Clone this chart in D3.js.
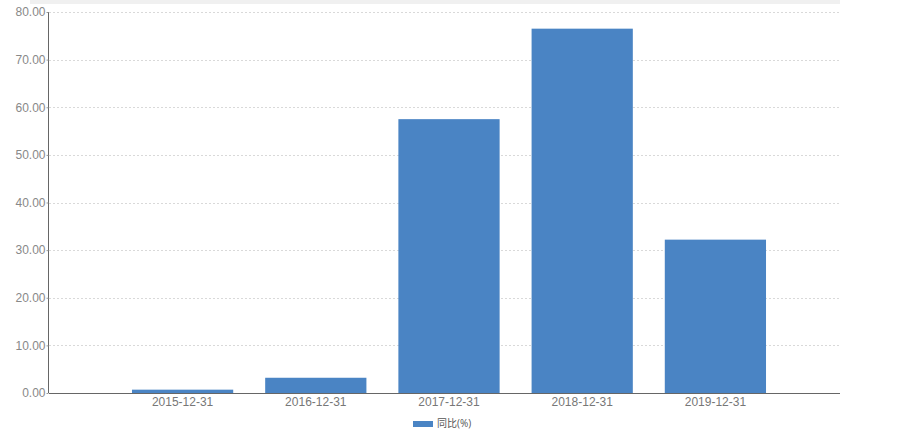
<!DOCTYPE html>
<html>
<head>
<meta charset="utf-8">
<script src="https://cdn.jsdelivr.net/npm/d3@7"></script>
<style>
  body { margin: 0; background: #fff; }
  svg { display: block; font-family: "Open Sans", "Noto Sans CJK SC", sans-serif; }
</style>
</head>
<body>
<svg width="919" height="434"></svg>
<script>
// data
var categories = ["2015-12-31", "2016-12-31", "2017-12-31", "2018-12-31", "2019-12-31"];
var values = [0.7, 3.2, 57.5, 76.5, 32.2];
var yTicks = [0, 10, 20, 30, 40, 50, 60, 70, 80];
var seriesName = "同比(%)";

var svg = d3.select("svg");
// note: "top" is taken by window.top, so use plot* names
var plotLeft = 49, plotRight = 840, plotTop = 12, plotBottom = 393;
var barColor = "#4a84c4";

var x = d3.scaleBand()
  .domain(categories)
  .range([116, 782])
  .paddingInner(0.24)
  .paddingOuter(0.12);

var y = d3.scaleLinear().domain([0, 80]).range([plotBottom, plotTop]);

// top faint border
svg.append("rect")
  .attr("x", 30).attr("y", 0).attr("width", plotRight - 30).attr("height", 4)
  .attr("fill", "#f0f0f0");

// grid lines
svg.append("g")
  .selectAll("line")
  .data(yTicks.filter(d => d > 0))
  .enter().append("line")
  .attr("x1", plotLeft).attr("x2", plotRight)
  .attr("y1", d => Math.round(y(d)) + 0.5)
  .attr("y2", d => Math.round(y(d)) + 0.5)
  .attr("stroke", "#d9d9d9")
  .attr("stroke-dasharray", "2,2");

// bars
svg.append("g")
  .selectAll("rect")
  .data(values)
  .enter().append("rect")
  .attr("x", (d, i) => x(categories[i]))
  .attr("width", x.bandwidth())
  .attr("y", d => y(d))
  .attr("height", d => y(0) - y(d))
  .attr("fill", barColor);

// y axis
var yAxis = svg.append("g")
  .attr("transform", "translate(" + (plotLeft - 0.5) + ",0)")
  .call(d3.axisLeft(y).tickValues(yTicks).tickFormat(d3.format(".2f")).tickSize(2).tickPadding(1));
yAxis.select(".domain").attr("stroke", "#666").attr("d", "M0," + plotTop + "V" + plotBottom);
yAxis.selectAll(".tick line").attr("stroke", "#999");
yAxis.selectAll("text").attr("fill", "#888").style("font-size", "12px");

// x axis
var xAxis = svg.append("g")
  .attr("transform", "translate(0," + (plotBottom + 0.5) + ")")
  .call(d3.axisBottom(x).tickSize(0).tickPadding(4));
xAxis.select(".domain").attr("stroke", "#666").attr("d", "M" + plotLeft + ",0H" + plotRight);
xAxis.selectAll("text").attr("fill", "#777").style("font-size", "12px");

// legend
var legend = svg.append("g").attr("transform", "translate(413,421)");
legend.append("rect").attr("width", 20).attr("height", 6).attr("fill", barColor);
legend.append("text").attr("x", 24).attr("y", 6).text(seriesName)
  .attr("fill", "#555").style("font-size", "10px");
</script>
</body>
</html>
